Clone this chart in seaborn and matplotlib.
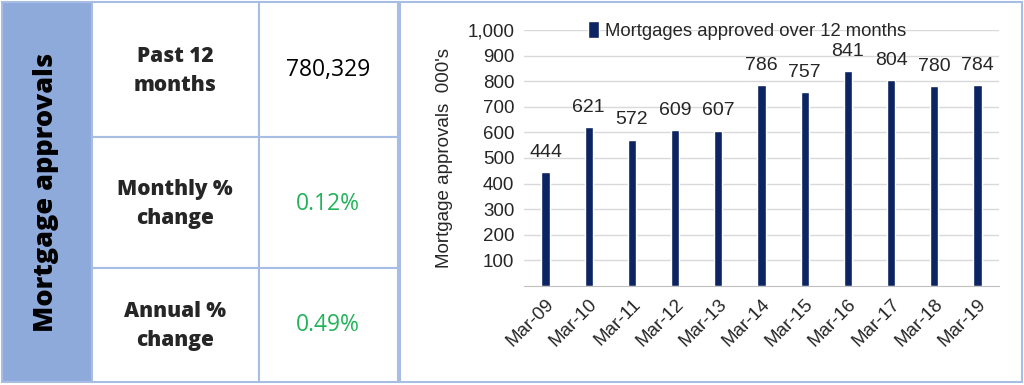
import matplotlib
matplotlib.use("Agg")
import matplotlib.pyplot as plt
import matplotlib.patches as mpatches
import seaborn as sns
import pandas as pd

# data
periods = ["Mar-09", "Mar-10", "Mar-11", "Mar-12", "Mar-13", "Mar-14",
           "Mar-15", "Mar-16", "Mar-17", "Mar-18", "Mar-19"]
approvals = [444, 621, 572, 609, 607, 786, 757, 841, 804, 780, 784]
series_name = "Mortgages approved over 12 months"
row_labels = ["Past 12\nmonths", "Monthly %\nchange", "Annual %\nchange"]
row_values = ["780,329", "0.12%", "0.49%"]
panel_title = "Mortgage approvals"

W, H = 1024, 385
BAR = "#0c2461"
BORDER = "#a8bde4"
GREEN = "#22b35a"
CHART_FONT = ["Liberation Sans", "DejaVu Sans"]

sns.set_style("white")
plt.rcParams["font.family"] = ["Open Sans", "DejaVu Sans"]

fig = plt.figure(figsize=(W / 100, H / 100), dpi=100)


def fx(px):
    return px / W


def fy(py):
    return 1 - py / H


def box(x0, y0, x1, y1, face):
    fig.patches.append(mpatches.Rectangle((fx(x0), fy(y1)), fx(x1 - x0), (y1 - y0) / H,
                                          transform=fig.transFigure, facecolor=face,
                                          edgecolor=BORDER, lw=1.5, zorder=-1))


# left table
box(2, 2, 92, 382, "#8eaadb")
fig.text(fx(46), fy(192), panel_title, rotation=90, ha="center", va="center",
         fontsize=19.5, fontweight="heavy", color="black")

row_edges = [2, 137, 268, 382]
col_edges = [92, 259, 398]
for x0, x1 in zip(col_edges[:-1], col_edges[1:]):
    for y0, y1 in zip(row_edges[:-1], row_edges[1:]):
        box(x0, y0, x1, y1, "white")

label_y = [71, 204, 326]
value_y = [70, 204, 325]
for i, (lab, val) in enumerate(zip(row_labels, row_values)):
    fig.text(fx(175), fy(label_y[i]), lab, ha="center", va="center",
             fontsize=15, fontweight="heavy", linespacing=1.45)
    fig.text(fx(328), fy(value_y[i]), val, ha="center", va="center",
             fontsize=16.5, color="black" if i == 0 else GREEN)

# chart panel border
box(400, 2, 1022, 382, "white")

ax = fig.add_axes([fx(524), fy(286), fx(999 - 524), (286 - 30) / H])
df = pd.DataFrame({"period": periods, "approvals": approvals})
sns.barplot(data=df, x="period", y="approvals", color=BAR, width=0.19,
            saturation=1, ax=ax, label=series_name)

ax.set_ylim(0, 1000)
ax.set_xlim(-0.5, len(periods) - 0.5)
ax.set_yticks(range(100, 1001, 100))
ax.set_yticklabels([f"{v:,}" for v in range(100, 1001, 100)],
                   fontsize=13.5, family=CHART_FONT)
ax.grid(axis="y", color="#d9d9d9", lw=1)
ax.set_axisbelow(True)
for s in ["left", "right", "top"]:
    ax.spines[s].set_visible(False)
ax.spines["bottom"].set_color("#bfbfbf")
ax.tick_params(axis="y", length=0, pad=7)
ax.tick_params(axis="x", which="major", length=0, pad=7)
ax.set_xticks([i - 0.5 for i in range(len(periods) + 1)], minor=True)
ax.tick_params(axis="x", which="minor", length=6, color="#bfbfbf", direction="out")
ax.set_xticks(range(len(periods)))
ax.set_xticklabels(periods, rotation=45, ha="right", rotation_mode="anchor",
                   fontsize=13.5, family=CHART_FONT)
ax.set_xlabel("")
ax.set_ylabel("Mortgage approvals  000's", fontsize=13.5, family=CHART_FONT,
              labelpad=10)

for c in ax.containers:
    ax.bar_label(c, labels=[str(v) for v in approvals], padding=8,
                 fontsize=14, family=CHART_FONT)

ax.legend(loc="upper center", bbox_to_anchor=(0.47, 1.1), frameon=False,
          handlelength=0.6, handleheight=1.0, handletextpad=0.3,
          prop={"family": CHART_FONT, "size": 13.3})

fig.savefig("out.png", dpi=100)
